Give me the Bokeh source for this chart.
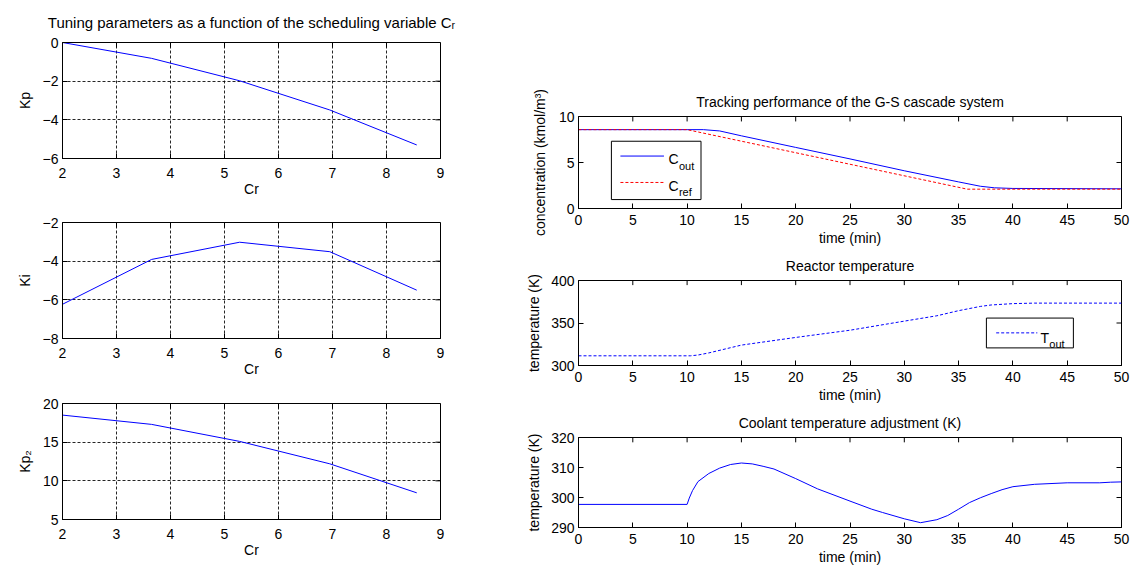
from bokeh.plotting import figure
from bokeh.models import Range1d, FixedTicker, Label, BoxAnnotation
from bokeh.layouts import row, column
from bokeh.embed import file_html
from bokeh.resources import INLINE

# ---------------- data ----------------
cr = [2.0, 3.65, 5.28, 6.95, 8.56]
kp = [0.0, -0.82, -1.98, -3.49, -5.3]
ki = [-6.23, -3.91, -3.02, -3.51, -5.5]
kp2 = [18.5, 17.3, 15.1, 12.2, 8.45]

t_out = [0, 10, 11.5, 13, 15, 20, 25, 30, 35, 37, 38.3, 40, 50]
c_out = [8.57, 8.57, 8.57, 8.43, 7.9, 6.64, 5.39, 4.1, 2.89, 2.42, 2.25, 2.18, 2.14]
t_ref = [0, 10, 35.8, 50]
c_ref = [8.57, 8.57, 2.1, 2.1]

t_react = [0, 10.3, 11, 12, 15, 20, 25, 30, 33, 35, 37, 38, 40, 42, 50]
temp_out = [311.4, 311.4, 312.3, 314.8, 324, 333, 341.5, 352.2, 358.5, 364.5,
            369.5, 371.2, 372.8, 373.4, 373.4]

t_cool = [0, 10, 10.2, 10.5, 11, 12, 13, 14, 15, 16, 17, 18, 20, 22, 25, 27, 28,
          30, 31.5, 33, 34, 35, 36, 37, 38, 39, 40, 42, 45, 48, 49, 50]
temp_cool = [297.7, 297.7, 299.8, 302.3, 305.3, 308.0, 309.8, 311.0, 311.5, 311.2,
             310.4, 309.5, 306.3, 302.9, 298.8, 296.1, 295.0, 292.9, 291.6, 292.6,
             294.0, 296.1, 298.3, 299.9, 301.3, 302.6, 303.6, 304.4, 304.9, 304.9,
             305.1, 305.2]

cr_ticks = [2, 3, 4, 5, 6, 7, 8, 9]
kp_ticks = [-6, -4, -2, 0]
ki_ticks = [-8, -6, -4, -2]
kp2_ticks = [5, 10, 15, 20]
t_ticks = list(range(0, 55, 5))
c_ticks = [0, 5, 10]
tr_ticks = [300, 350, 400]
tc_ticks = [290, 300, 310, 320]

FONT = "Liberation Sans"
BLUE = "#0000ff"
RED = "#ff0000"
TICK = 5  # px, inward tick length


def make_fig(w, h, xr, yr, bl, br, bt, bb):
    p = figure(width=w, height=h, x_range=Range1d(*xr), y_range=Range1d(*yr),
               output_backend="svg", toolbar_location=None,
               min_border_left=bl, min_border_right=br,
               min_border_top=bt, min_border_bottom=bb)
    p.outline_line_color = "black"
    p.outline_line_alpha = 1.0
    p.background_fill_color = "white"
    p.border_fill_color = "white"
    return p, (w - bl - br, h - bt - bb)


def style_axis(ax, ticks):
    ax.ticker = FixedTicker(ticks=ticks)
    ax.axis_line_color = "black"
    ax.major_tick_line_color = "black"
    ax.major_tick_in = TICK
    ax.major_tick_out = 0
    ax.minor_tick_line_color = None
    ax.major_label_text_font = FONT
    ax.major_label_text_font_size = "14px"
    ax.major_label_text_color = "black"
    ax.axis_label_text_font = FONT
    ax.axis_label_text_font_size = "14px"
    ax.axis_label_text_font_style = "normal"
    ax.axis_label_text_color = "black"


def decorate(p, fsize, xr, yr, xticks, yticks, xlabel, ylabel, grid,
             ystand=7, xstand=6, xlstand=2):
    fw, fh = fsize
    style_axis(p.xaxis[0], xticks)
    style_axis(p.yaxis[0], yticks)
    p.xaxis[0].axis_label = xlabel
    p.yaxis[0].axis_label = ylabel
    p.xaxis[0].major_label_standoff = xstand
    p.xaxis[0].axis_label_standoff = xlstand
    p.yaxis[0].major_label_standoff = 4
    p.yaxis[0].axis_label_standoff = ystand
    # mirrored inward ticks on the top and right edges
    dy = TICK * (yr[1] - yr[0]) / fh
    dx = TICK * (xr[1] - xr[0]) / fw
    p.segment(x0=xticks, x1=xticks, y0=[yr[1]] * len(xticks),
              y1=[yr[1] - dy] * len(xticks), line_color="black", line_width=1)
    p.segment(x0=[xr[1]] * len(yticks), x1=[xr[1] - dx] * len(yticks),
              y0=yticks, y1=yticks, line_color="black", line_width=1)
    if grid:
        p.xgrid.ticker = FixedTicker(ticks=xticks)
        p.ygrid.ticker = FixedTicker(ticks=yticks)
        for g in (p.xgrid, p.ygrid):
            g.grid_line_color = "black"
            g.grid_line_dash = "3 2"
            g.grid_line_width = 1
            g.grid_line_alpha = 0.85
    else:
        p.xgrid.visible = False
        p.ygrid.visible = False


def set_title(p, s, size="14px", standoff=14):
    p.title.text = s
    p.title.align = "center"
    p.title.text_font = FONT
    p.title.text_font_size = size
    p.title.text_font_style = "normal"
    p.title.text_color = "black"
    p.title.standoff = standoff


def txt(p, x, y, s, size="14px", align="left"):
    p.add_layout(Label(x=x, y=y, text=s, text_font=FONT, text_font_size=size,
                       text_color="black", text_align=align,
                       text_baseline="alphabetic"))


LW = 507
CR = (2, 9)
# ---------------- left column ----------------
l1, s1 = make_fig(LW, 200, CR, (-6, 0), 62, 67, 42, 42)
set_title(l1, "Tuning parameters as a function of the scheduling variable C\u1d63",
          size="15px", standoff=23)
decorate(l1, s1, CR, (-6, 0), cr_ticks, kp_ticks, "Cr", "Kp", True,
         xstand=9, xlstand=0)
l1.line(cr, kp, line_color=BLUE, line_width=1)

l2, s2 = make_fig(LW, 182, CR, (-8, -2), 62, 67, 22, 44)
decorate(l2, s2, CR, (-8, -2), cr_ticks, ki_ticks, "Cr", "Ki", True,
         xstand=9, xlstand=0)
l2.line(cr, ki, line_color=BLUE, line_width=1)

l3, s3 = make_fig(LW, 186, CR, (5, 20), 62, 67, 21, 49)
decorate(l3, s3, CR, (5, 20), cr_ticks, kp2_ticks, "Cr", "Kp\u2082", True,
         xstand=9, xlstand=0)
l3.line(cr, kp2, line_color=BLUE, line_width=1)

# ---------------- right column ----------------
RW = 627
TR = (0, 50)

r1, q1 = make_fig(RW, 248, TR, (0, 10), 71, 13, 116, 39)
set_title(r1, "Tracking performance of the G-S cascade system")
decorate(r1, q1, TR, (0, 10), t_ticks, c_ticks, "time (min)",
         "concentration (kmol/m\u00b3)", False, ystand=8)
r1.line(t_out, c_out, line_color=BLUE, line_width=1)
r1.line(t_ref, c_ref, line_color=RED, line_width=1, line_dash="3 2")
r1.add_layout(BoxAnnotation(left=3.03, right=11.28, top=7.31, bottom=0.97,
                            fill_color="white", fill_alpha=1.0,
                            line_color="black", line_width=1, line_alpha=1.0))
r1.line([3.86, 7.87], [5.70, 5.70], line_color=BLUE, line_width=1, level="overlay")
r1.line([3.86, 7.87], [2.83, 2.83], line_color=RED, line_width=1,
        line_dash="3 2", level="overlay")
txt(r1, 8.29, 5.38, "C")
txt(r1, 9.25, 4.67, "out", size="11px")
txt(r1, 8.29, 2.47, "C")
txt(r1, 9.25, 1.75, "ref", size="11px")

r2, q2 = make_fig(RW, 157, TR, (300, 400), 71, 13, 28, 37)
set_title(r2, "Reactor temperature")
decorate(r2, q2, TR, (300, 400), t_ticks, tr_ticks, "time (min)", "temperature (K)",
         False, ystand=6)
r2.line(t_react, temp_out, line_color=BLUE, line_width=1, line_dash="3 2")
r2.add_layout(BoxAnnotation(left=37.56, right=45.57, top=355.8, bottom=320.7,
                            fill_color="white", fill_alpha=1.0,
                            line_color="black", line_width=1, line_alpha=1.0))
r2.line([38.46, 42.25], [338.4, 338.4], line_color=BLUE, line_width=1,
        line_dash="3 2", level="overlay")
txt(r2, 42.54, 332.3, "T")
txt(r2, 43.35, 325.0, "out", size="11px")

r3, q3 = make_fig(RW, 163, TR, (290, 320), 71, 13, 29, 41)
set_title(r3, "Coolant temperature adjustment (K)")
decorate(r3, q3, TR, (290, 320), t_ticks, tc_ticks, "time (min)", "temperature (K)",
         False, ystand=6)
r3.line(t_cool, temp_cool, line_color=BLUE, line_width=1)

layout = row(column(l1, l2, l3), column(r1, r2, r3))

open("out.html", "w").write(file_html(layout, INLINE))
